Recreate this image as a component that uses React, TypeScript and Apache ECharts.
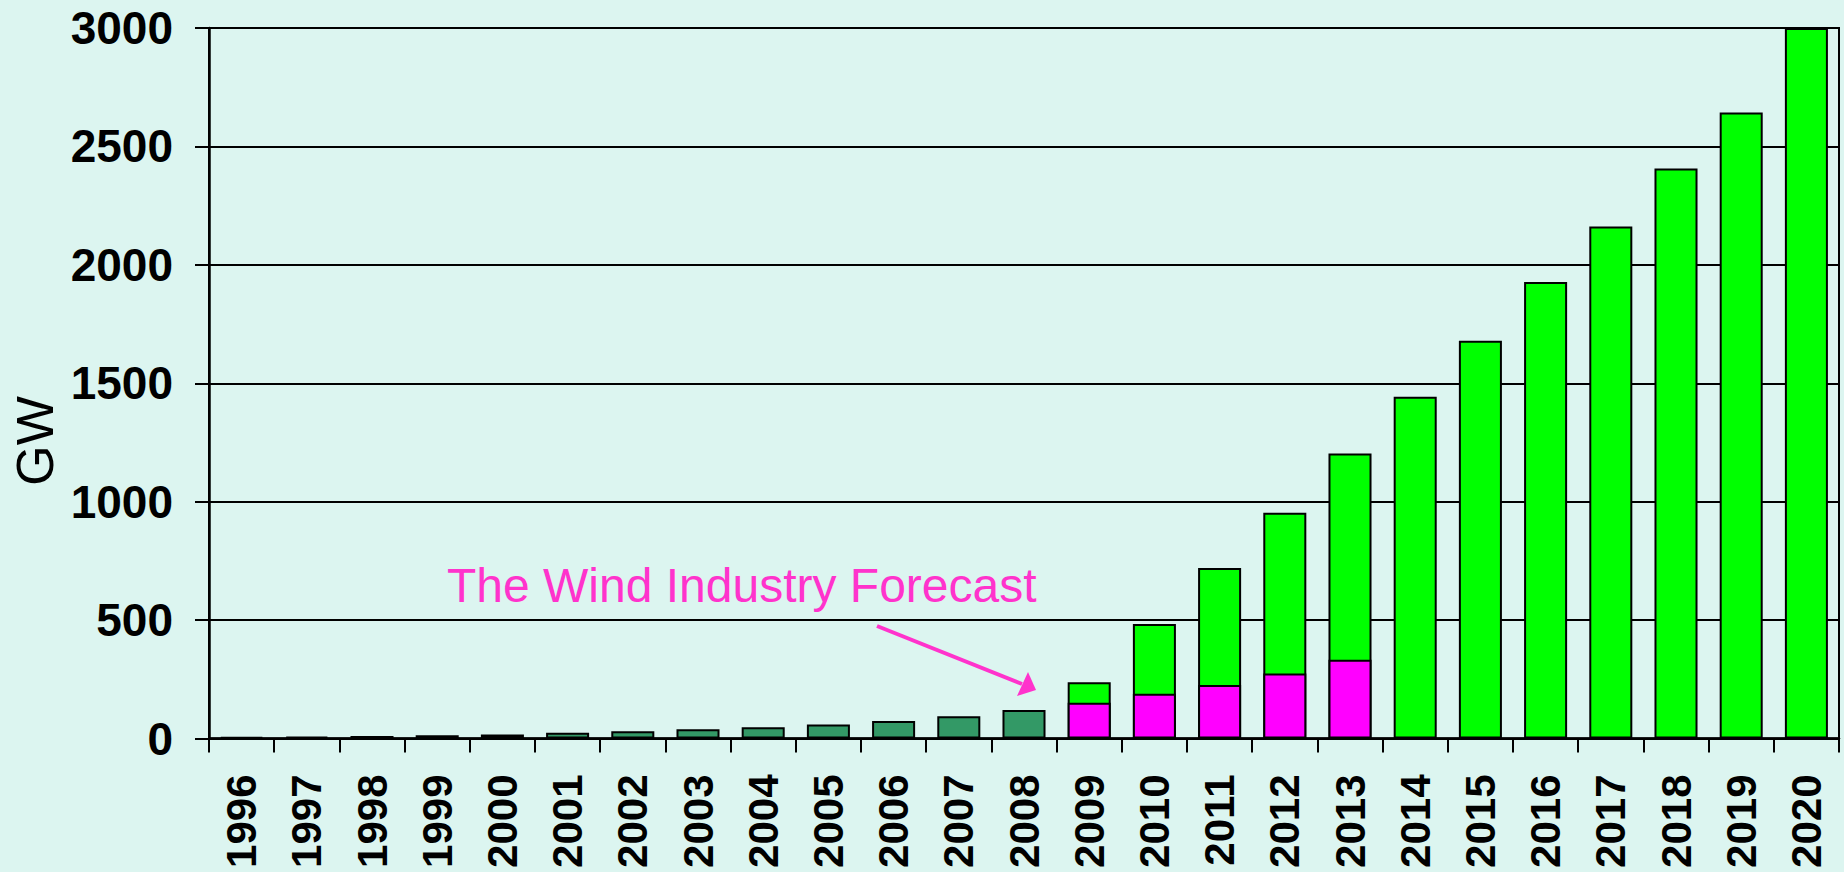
import React, { useEffect, useRef } from "react";
import * as echarts from "echarts";

// Years on the category axis
const years: string[] = [
  "1996", "1997", "1998", "1999", "2000", "2001", "2002", "2003", "2004",
  "2005", "2006", "2007", "2008", "2009", "2010", "2011", "2012", "2013",
  "2014", "2015", "2016", "2017", "2018", "2019", "2020",
];

// Installed capacity up to 2008 (GW)
const installed: (number | null)[] = [
  6.1, 7.6, 10.2, 13.6, 17.4, 23.9, 31.1, 39.4, 47.6, 59.1, 74.1, 93.8, 120.8,
  null, null, null, null, null, null, null, null, null, null, null, null,
];

// Projected capacity from 2009 onward (GW)
const projected: (number | null)[] = [
  null, null, null, null, null, null, null, null, null, null, null, null, null,
  237, 483, 720, 953, 1203, 1443, 1679, 1927, 2162, 2407, 2643, 3000,
];

// Industry forecast, 2009–2013 (GW)
const industryForecast: (number | null)[] = [
  null, null, null, null, null, null, null, null, null, null, null, null, null,
  151, 189, 226, 274, 332, null, null, null, null, null, null, null,
];

const yTicks = { min: 0, max: 3000, interval: 500 };

const FONT = "'Liberation Sans', Arial, Helvetica, sans-serif";
const BG = "#DCF5F0";
const PINK_TEXT = "#FF33CC";

export default function App() {
  const ref = useRef<HTMLDivElement>(null);

  useEffect(() => {
    if (!ref.current) return;
    const chart = echarts.init(ref.current, undefined, { renderer: "svg" });

    const barBase = {
      type: "bar" as const,
      barWidth: "66%",
      barGap: "-100%",
      itemStyle: { borderColor: "#000", borderWidth: 2 },
    };

    chart.setOption({
      animation: false,
      backgroundColor: BG,
      textStyle: { fontFamily: FONT },
      grid: {
        left: 209,
        right: 5,
        top: 28,
        bottom: 133.5,
        show: true,
        borderColor: "#000",
        borderWidth: 2,
        backgroundColor: "transparent",
      },
      xAxis: {
        type: "category",
        data: years,
        boundaryGap: true,
        axisLine: { lineStyle: { color: "#000", width: 2.5 } },
        axisTick: {
          show: true,
          interval: 0,
          length: 14,
          lineStyle: { color: "#000", width: 2 },
        },
        axisLabel: {
          interval: 0,
          rotate: 90,
          margin: 36,
          color: "#000",
          fontSize: 42,
          fontWeight: "bold",
          fontFamily: FONT,
        },
      },
      yAxis: {
        type: "value",
        min: yTicks.min,
        max: yTicks.max,
        interval: yTicks.interval,
        axisLine: { show: true, lineStyle: { color: "#000", width: 2.5 } },
        axisTick: {
          show: true,
          length: 14,
          lineStyle: { color: "#000", width: 2 },
        },
        splitLine: { show: true, lineStyle: { color: "#000", width: 2 } },
        axisLabel: {
          margin: 36,
          color: "#000",
          fontSize: 46,
          fontWeight: "bold",
          fontFamily: FONT,
          formatter: (v: number) => String(v),
        },
      },
      series: [
        {
          ...barBase,
          name: "Installed",
          data: installed,
          itemStyle: { ...barBase.itemStyle, color: "#339966" },
        },
        {
          ...barBase,
          name: "Projected",
          data: projected,
          itemStyle: { ...barBase.itemStyle, color: "#00FF00" },
        },
        {
          ...barBase,
          name: "Industry forecast",
          data: industryForecast,
          itemStyle: { ...barBase.itemStyle, color: "#FF00FF" },
        },
      ],
      graphic: [
        {
          type: "text",
          x: 35,
          y: 441,
          rotation: Math.PI / 2,
          style: {
            text: "GW",
            fill: "#000",
            font: `52px ${FONT}`,
            align: "center",
            verticalAlign: "middle",
          },
        },
        {
          type: "text",
          x: 447,
          y: 561,
          style: {
            text: "The Wind Industry Forecast",
            fill: PINK_TEXT,
            font: `48px ${FONT}`,
            align: "left",
            verticalAlign: "top",
          },
        },
        {
          type: "line",
          shape: { x1: 877, y1: 626, x2: 1022, y2: 684 },
          style: { stroke: PINK_TEXT, lineWidth: 4 },
        },
        {
          type: "polygon",
          shape: {
            points: [
              [1028, 672],
              [1036, 690],
              [1017, 696],
            ],
          },
          style: { fill: PINK_TEXT },
        },
      ],
    });

    return () => chart.dispose();
  }, []);

  return (
    <div
      ref={ref}
      style={{ position: "absolute", left: 0, top: 0, width: 1844, height: 872 }}
    />
  );
}
